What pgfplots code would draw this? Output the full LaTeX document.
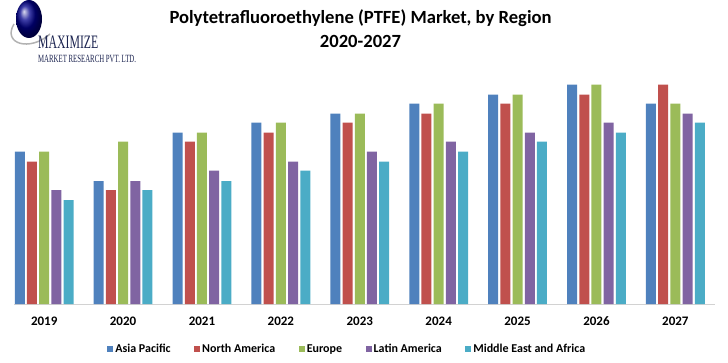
\documentclass[border=0pt]{standalone}
\usepackage{pgfplots}
\pgfplotsset{compat=1.18}
\usepackage{fontspec}
\setmainfont{Carlito}
\newfontfamily\logofont{Liberation Serif}
\definecolor{cAP}{HTML}{4F81BD}
\definecolor{cNA}{HTML}{C0504D}
\definecolor{cEU}{HTML}{9BBB59}
\definecolor{cLA}{HTML}{8064A2}
\definecolor{cME}{HTML}{4BACC6}
\definecolor{navy}{HTML}{1C2450}
\begin{document}
\begin{tikzpicture}[x=1pt,y=1pt]
\useasboundingbox (0,0) rectangle (728,362);
% logo
\draw[gray!60, line width=1.5pt] (14,338) .. controls (2,318) and (30,310) .. (50,328);
\shade[ball color=blue!55!black] (29,343) ellipse (13 and 19);
\node[anchor=base west, inner sep=0, text=navy, xscale=0.62] at (38,313) {\logofont\fontsize{19}{19}\selectfont MAXIMIZE};
\node[anchor=base west, inner sep=0, text=navy, xscale=0.62] at (38,299.5) {\logofont\fontsize{11}{11}\selectfont MARKET RESEARCH PVT. LTD.};
% title
\node[anchor=base, inner sep=0] at (360.5,338) {\fontsize{18.6}{18.6}\selectfont\bfseries Polytetrafluoroethylene (PTFE) Market, by Region};
\node[anchor=base, inner sep=0] at (360.5,314) {\fontsize{18.6}{18.6}\selectfont\bfseries 2020-2027};
\begin{axis}[
  at={(18,58)}, anchor=south west,
  scale only axis, width=700.6pt, height=220pt,
  xmin=-0.38, xmax=8.5, ymin=0, ymax=220,
  ybar=2.2pt, bar width=10pt,
  axis y line=none,
  axis x line*=bottom,
  x axis line style={draw=gray!35, line width=0.8pt, -},
  xtick={0,...,8}, major tick length=0pt,
  xticklabels={2019,2020,2021,2022,2023,2024,2025,2026,2027},
  xticklabel style={anchor=base, yshift=-21.7pt, font=\fontsize{13}{13}\selectfont\bfseries},
  legend columns=-1,
  legend style={draw=none, at={(0.4754,-0.2045)}, anchor=center,
    font=\fontsize{12}{12}\selectfont\bfseries,
    /tikz/every even column/.append style={column sep=21.5pt},
    inner sep=0pt, outer sep=0pt},
  legend image code/.code={\fill[#1, draw=none] (0pt,-3pt) rectangle (6pt,3pt);},
  every axis plot/.append style={draw=none},
]
\addplot[fill=cAP] coordinates {(0,152.3) (1,123) (2,171.3) (3,181.3) (4,190.3) (5,200.3) (6,209.3) (7,219.3) (8,200.3)};
\addplot[fill=cNA] coordinates {(0,142.3) (1,114) (2,162.3) (3,171.3) (4,181.3) (5,190.3) (6,200.3) (7,209.3) (8,219.3)};
\addplot[fill=cEU] coordinates {(0,152.3) (1,162.3) (2,171.3) (3,181.3) (4,190.3) (5,200.3) (6,209.3) (7,219.3) (8,200.3)};
\addplot[fill=cLA] coordinates {(0,114) (1,123) (2,133.3) (3,142.3) (4,152.3) (5,162.3) (6,171.3) (7,181.3) (8,190.3)};
\addplot[fill=cME] coordinates {(0,104) (1,114) (2,123) (3,133.3) (4,142.3) (5,152.3) (6,162.3) (7,171.3) (8,181.3)};
\legend{Asia Pacific, North America, Europe, Latin America, Middle East and Africa}
\end{axis}
\end{tikzpicture}
\end{document}
